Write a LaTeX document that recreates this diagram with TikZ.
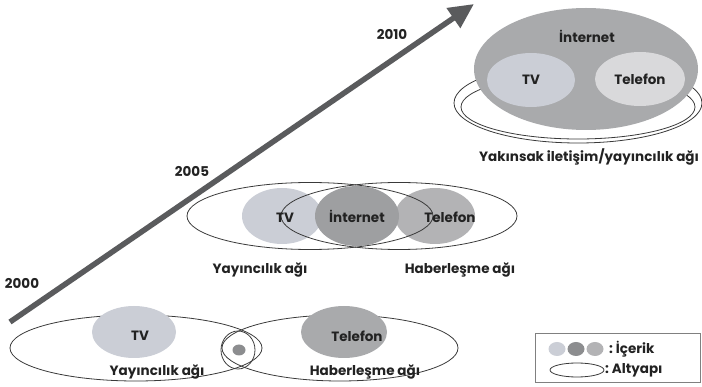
\documentclass[tikz,border=0pt]{standalone}
\usepackage{fontspec}
\setmainfont{Poppins}
\usetikzlibrary{shapes.geometric,arrows.meta}
\definecolor{arrowgray}{HTML}{5A5B5D}
\definecolor{lightc}{HTML}{CBCED6}
\definecolor{paletc}{HTML}{D9D9DB}
\definecolor{midc}{HTML}{B3B3B5}
\definecolor{darkc}{HTML}{9E9FA1}
\definecolor{bigc}{HTML}{A9AAAC}
\definecolor{dotc}{HTML}{8C8D8F}
\definecolor{linec}{HTML}{3A3A3A}
\definecolor{textc}{HTML}{222222}
\tikzset{
  blob/.style={ellipse, inner sep=0pt, draw=none},
  infra/.style={ellipse, inner sep=0pt, draw=linec, line width=0.8pt, fill=none},
  lbl/.style={font=\fontsize{13.5}{16}\selectfont\bfseries, text=textc, inner sep=0pt},
  arrowline/.style={draw=arrowgray, line width=5.5pt, -{Triangle[length=25pt,width=23pt]}},
}
\begin{document}
\begin{tikzpicture}[x=1pt,y=-1pt]
\useasboundingbox (0,0) rectangle (702,387);
% arrow
\coordinate (a0) at (10,322);
\coordinate (a1) at (474,4);
\draw[arrowline] (a0) -- (a1);
\node[lbl] (y2010) at (392,34) {2010};
\node[lbl] (y2005) at (192,171) {2005};
\node[lbl] (y2000) at (22,283) {2000};
% ---- top right (2010)
\node[infra, minimum width=248pt, minimum height=80pt] (outerA) at (578,103) {};
\node[infra, minimum width=234pt, minimum height=64pt] (outerB) at (578,107) {};
\node[blob, fill=bigc, minimum width=224pt, minimum height=122pt] (big) at (586,69) {};
\node[blob, fill=lightc, minimum width=88pt, minimum height=54pt] (tvT) at (531,80) {};
\node[blob, fill=paletc, minimum width=90pt, minimum height=54pt] (telT) at (640,79) {};
\node[lbl] (intT) at (587,36) {İnternet};
\node[lbl] at (tvT) {TV};
\node[lbl] at (telT) {Telefon};
\node[lbl] (capT) at (589,157) {Yakınsak iletişim/yayıncılık ağı};
% ---- middle (2005)
\node[blob, fill=lightc, minimum width=80pt, minimum height=56pt] (tvM) at (282,216) {};
\node[blob, fill=midc, minimum width=80pt, minimum height=56pt] (telM) at (435,216) {};
\node[blob, fill=darkc, minimum width=84pt, minimum height=60pt] (intM) at (357,216) {};
\node[infra, minimum width=246pt, minimum height=67pt] (yayM) at (310,216) {};
\node[infra, minimum width=236pt, minimum height=67pt] (habM) at (399,216) {};
\node[lbl] at (285,218) {TV};
\node[lbl] at (357,216) {İnternet};
\node[lbl] at (450,217) {Telefon};
\node[lbl] (yayMl) at (260,270) {Yayıncılık ağı};
\node[lbl] (habMl) at (460,270) {Haberleşme ağı};
% ---- bottom (2000)
\node[infra, minimum width=252pt, minimum height=66pt] (yayB) at (136,348) {};
\node[infra, minimum width=236pt, minimum height=66pt] (habB) at (340,348) {};
\node[infra, minimum width=34pt, minimum height=38pt] (mid) at (238,350) {};
\node[blob, fill=dotc, minimum width=13pt, minimum height=11pt] (dot) at (239,350) {};
\node[blob, fill=lightc, minimum width=84pt, minimum height=52pt] (tvB) at (134,332) {};
\node[blob, fill=bigc, minimum width=86pt, minimum height=52pt] (telB) at (344,332) {};
\node[lbl] at (140,336) {TV};
\node[lbl] at (357,336) {Telefon};
\node[lbl] (yayBl) at (157,372) {Yayıncılık ağı};
\node[lbl] (habBl) at (365,372) {Haberleşme ağı};
% ---- legend
\node[draw=gray, line width=0.8pt, minimum width=165pt, minimum height=49pt, inner sep=0pt] (leg) at (617.5,357.5) {};
\node[blob, fill=lightc, minimum width=17pt, minimum height=14pt] (l1) at (557,349) {};
\node[blob, fill=dotc, minimum width=17pt, minimum height=14pt] (l2) at (576,349) {};
\node[blob, fill=midc, minimum width=17pt, minimum height=14pt] (l3) at (595,349) {};
\node[infra, minimum width=54pt, minimum height=14pt] (l4) at (577,370) {};
\node[lbl, anchor=west] (icerik) at (609,349) {:\ İçerik};
\node[lbl, anchor=west] (altyapi) at (605,370) {:\ Altyapı};
\end{tikzpicture}
\end{document}
